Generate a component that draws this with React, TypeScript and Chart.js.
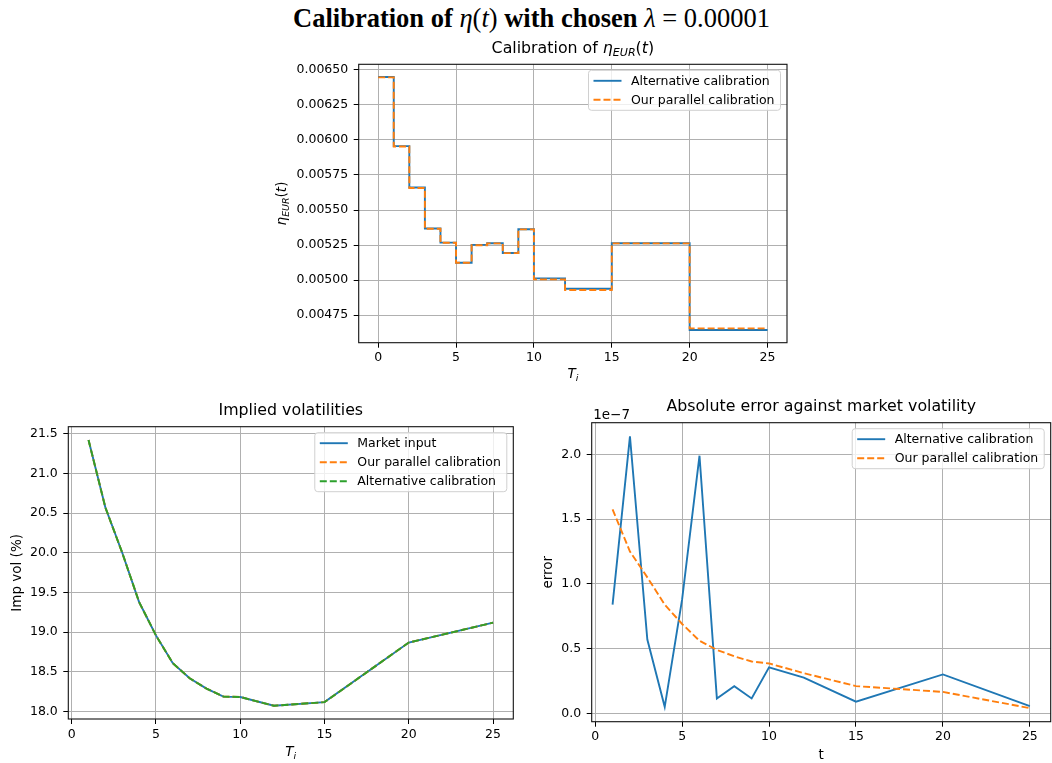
import React, { useEffect, useRef } from 'react';
import { Chart, registerables } from 'chart.js';

Chart.register(...registerables);

// ---------------- data ----------------
// eta(t) step function: value i applies on [ETA_KNOTS[i], ETA_KNOTS[i+1])
const ETA_KNOTS = [0, 1, 2, 3, 4, 5, 6, 7, 8, 9, 10, 12, 15, 20, 25];
const ETA_ALTERNATIVE = [0.00645, 0.005956, 0.005661, 0.005368, 0.005267, 0.005124, 0.005251, 0.005263, 0.005193, 0.005363, 0.005012, 0.004938, 0.005263, 0.004643];
const ETA_PARALLEL = [0.006447, 0.005953, 0.005657, 0.005366, 0.005266, 0.005124, 0.005248, 0.005262, 0.005192, 0.005362, 0.005005, 0.004929, 0.005262, 0.004655];
const ETA_TICKS = [0.00475, 0.005, 0.00525, 0.0055, 0.00575, 0.006, 0.00625, 0.0065];
const X_TICKS = [0, 5, 10, 15, 20, 25];

const MATURITIES = [1, 2, 3, 4, 5, 6, 7, 8, 9, 10, 12, 15, 20, 25];
const VOL_MARKET = [21.42, 20.57, 20.0, 19.38, 18.96, 18.61, 18.42, 18.29, 18.19, 18.185, 18.075, 18.12, 18.87, 19.12];
const VOL_PARALLEL = [21.42, 20.57, 20.0, 19.38, 18.96, 18.61, 18.42, 18.29, 18.19, 18.185, 18.075, 18.12, 18.87, 19.12];
const VOL_ALTERNATIVE = [21.42, 20.57, 20.0, 19.38, 18.96, 18.61, 18.42, 18.29, 18.19, 18.185, 18.075, 18.12, 18.87, 19.12];
const VOL_TICKS = [18.0, 18.5, 19.0, 19.5, 20.0, 20.5, 21.0, 21.5];

// absolute errors, in units of 1e-7
const ERR_OFFSET_LABEL = '1e\u22127';
const ERR_ALTERNATIVE = [0.84, 2.14, 0.57, 0.05, 0.88, 1.99, 0.115, 0.21, 0.115, 0.355, 0.275, 0.09, 0.30, 0.055];
const ERR_PARALLEL = [1.575, 1.25, 1.05, 0.84, 0.69, 0.56, 0.49, 0.44, 0.40, 0.385, 0.31, 0.21, 0.165, 0.04];
const ERR_TICKS = [0.0, 0.5, 1.0, 1.5, 2.0];

const BLUE = '#1f77b4';
const ORANGE = '#ff7f0e';
const GREEN = '#2ca02c';
const FONT = '"DejaVu Sans", sans-serif';
const TICK_SIZE = 12.5;
const TITLE_SIZE = 15.8;
const LABEL_SIZE = 13.5;

// ---------------- helpers ----------------
function padded(vals: number[], frac = 0.05): [number, number] {
  const lo = Math.min(...vals);
  const hi = Math.max(...vals);
  const d = (hi - lo) * frac;
  return [lo - d, hi + d];
}

function axis(range: [number, number], ticks: number[], fmt: (v: number) => string, size: number, isX: boolean, pad: number) {
  return {
    type: 'linear',
    min: range[0],
    max: range[1],
    afterBuildTicks: (s: any) => {
      s.ticks = ticks.map((v) => ({ value: v }));
    },
    afterFit: (s: any) => {
      if (isX) s.height = size;
      else s.width = size;
    },
    ticks: {
      callback: (v: any) => fmt(Number(v)),
      font: { family: FONT, size: TICK_SIZE },
      color: '#000',
      padding: pad,
      maxRotation: 0,
      minRotation: 0,
      autoSkip: false,
    },
    grid: {
      color: '#b0b0b0',
      lineWidth: 1,
      tickLength: 5,
      tickColor: '#000',
      tickWidth: 1,
      drawTicks: true,
    },
    border: { display: false },
  };
}

type Seg = { t: string; it?: boolean; sub?: boolean };
type TextItem = {
  segs: Seg[];
  size: number;
  place: (a: any) => [number, number];
  rotate?: boolean;
  align?: 'center' | 'left';
};

function drawRich(ctx: CanvasRenderingContext2D, item: TextItem, a: any) {
  const [x, y] = item.place(a);
  const size = item.size;
  const fontFor = (s: Seg) => `${s.it ? 'italic ' : ''}${s.sub ? size * 0.7 : size}px ${FONT}`;
  ctx.save();
  ctx.translate(x, y);
  if (item.rotate) ctx.rotate(-Math.PI / 2);
  const widths = item.segs.map((s) => {
    ctx.font = fontFor(s);
    return ctx.measureText(s.t).width;
  });
  const total = widths.reduce((p, c) => p + c, 0);
  let cx = item.align === 'left' ? 0 : -total / 2;
  ctx.textAlign = 'left';
  ctx.textBaseline = 'alphabetic';
  ctx.fillStyle = '#000';
  item.segs.forEach((s, i) => {
    ctx.font = fontFor(s);
    ctx.fillText(s.t, cx, s.sub ? size * 0.22 : 0);
    cx += widths[i];
  });
  ctx.restore();
}

function roundRectPath(ctx: CanvasRenderingContext2D, x: number, y: number, w: number, h: number, r: number) {
  ctx.beginPath();
  ctx.moveTo(x + r, y);
  ctx.lineTo(x + w - r, y);
  ctx.arcTo(x + w, y, x + w, y + r, r);
  ctx.lineTo(x + w, y + h - r);
  ctx.arcTo(x + w, y + h, x + w - r, y + h, r);
  ctx.lineTo(x + r, y + h);
  ctx.arcTo(x, y + h, x, y + h - r, r);
  ctx.lineTo(x, y + r);
  ctx.arcTo(x, y, x + r, y, r);
  ctx.closePath();
}

function makeDecor(texts: TextItem[]) {
  return {
    id: 'decor',
    afterDatasetsDraw(chart: any) {
      const ctx: CanvasRenderingContext2D = chart.ctx;
      const a = chart.chartArea;
      ctx.save();
      // spines
      ctx.strokeStyle = '#111';
      ctx.lineWidth = 1.1;
      ctx.setLineDash([]);
      ctx.strokeRect(a.left, a.top, a.right - a.left, a.bottom - a.top);

      // legend (upper right)
      const ds = chart.data.datasets;
      const lf = 12.5;
      ctx.font = `${lf}px ${FONT}`;
      const textW = Math.max(...ds.map((d: any) => ctx.measureText(d.label).width));
      const padX = 5;
      const handle = 28;
      const gap = 9.5;
      const rowH = 19;
      const padY = 10.5;
      const w = padX + handle + gap + textW + 6;
      const h = padY * 2 + (ds.length - 1) * rowH;
      const x0 = a.right - 6.5 - w;
      const y0 = a.top + 6;
      roundRectPath(ctx, x0, y0, w, h, 3);
      ctx.fillStyle = 'rgba(255,255,255,0.8)';
      ctx.fill();
      ctx.strokeStyle = '#d0d0d0';
      ctx.lineWidth = 1;
      ctx.stroke();
      ds.forEach((d: any, i: number) => {
        const cy = y0 + padY + i * rowH;
        ctx.setLineDash(d.borderDash || []);
        ctx.strokeStyle = d.borderColor;
        ctx.lineWidth = d.borderWidth;
        ctx.beginPath();
        ctx.moveTo(x0 + padX, cy);
        ctx.lineTo(x0 + padX + handle, cy);
        ctx.stroke();
        ctx.setLineDash([]);
        ctx.fillStyle = '#000';
        ctx.font = `${lf}px ${FONT}`;
        ctx.textAlign = 'left';
        ctx.textBaseline = 'middle';
        ctx.fillText(d.label, x0 + padX + handle + gap, cy + 0.5);
      });

      texts.forEach((t) => drawRich(ctx, t, a));
      ctx.restore();
    },
  };
}

function lineDs(label: string, data: any[], color: string, dashed: boolean, order: number, stepped?: any) {
  return {
    label,
    data,
    borderColor: color,
    backgroundColor: color,
    borderWidth: 1.9,
    borderDash: dashed ? [7, 3] : [],
    pointRadius: 0,
    pointHoverRadius: 0,
    tension: 0,
    fill: false,
    order,
    stepped: stepped || false,
  };
}

function baseOptions(padding: any, scales: any) {
  return {
    responsive: false,
    maintainAspectRatio: false,
    animation: false,
    devicePixelRatio: 1,
    layout: { padding },
    plugins: {
      legend: { display: false },
      title: { display: false },
      tooltip: { enabled: false },
    },
    events: [],
    scales,
  };
}

const etaLabel: Seg[] = [{ t: '\u03b7', it: true }, { t: 'EUR', it: true, sub: true }, { t: '(' }, { t: 't', it: true }, { t: ')' }];
const tiLabel: Seg[] = [{ t: 'T', it: true }, { t: 'i', it: true, sub: true }];

function buildEtaConfig() {
  const stepPts = (vals: number[]) => ETA_KNOTS.map((x, i) => ({ x, y: vals[Math.min(i, vals.length - 1)] }));
  const xr = padded(ETA_KNOTS);
  const yr = padded([...ETA_ALTERNATIVE, ...ETA_PARALLEL]);
  return {
    type: 'line',
    data: {
      datasets: [
        lineDs('Alternative calibration', stepPts(ETA_ALTERNATIVE), BLUE, false, 2, 'before'),
        lineDs('Our parallel calibration', stepPts(ETA_PARALLEL), ORANGE, true, 1, 'before'),
      ],
    },
    options: baseOptions(
      { top: 28.3, right: 13, left: 0, bottom: 0 },
      {
        x: axis(xr, X_TICKS, (v) => String(Math.round(v)), 47.3, true, 3),
        y: axis(yr, ETA_TICKS, (v) => v.toFixed(5), 88.7, false, 5.5),
      }
    ),
    plugins: [
      makeDecor([
        { segs: [{ t: 'Calibration of ' }, ...etaLabel], size: TITLE_SIZE, place: (a) => [(a.left + a.right) / 2, a.top - 11.5] },
        { segs: etaLabel, size: LABEL_SIZE, rotate: true, place: (a) => [a.left - 72.7, (a.top + a.bottom) / 2] },
        { segs: tiLabel, size: LABEL_SIZE, place: (a) => [(a.left + a.right) / 2, a.bottom + 35] },
      ]),
    ],
  };
}

function buildVolConfig() {
  const pts = (vals: number[]) => MATURITIES.map((x, i) => ({ x, y: vals[i] }));
  const xr = padded(MATURITIES);
  const yr = padded([...VOL_MARKET, ...VOL_PARALLEL, ...VOL_ALTERNATIVE]);
  return {
    type: 'line',
    data: {
      datasets: [
        lineDs('Market input', pts(VOL_MARKET), BLUE, false, 3),
        lineDs('Our parallel calibration', pts(VOL_PARALLEL), ORANGE, true, 2),
        lineDs('Alternative calibration', pts(VOL_ALTERNATIVE), GREEN, true, 1),
      ],
    },
    options: baseOptions(
      { top: 31.7, right: 16.7, left: 0, bottom: 0 },
      {
        x: axis(xr, X_TICKS, (v) => String(Math.round(v)), 44, true, 3),
        y: axis(yr, VOL_TICKS, (v) => v.toFixed(1), 68.3, false, 5.5),
      }
    ),
    plugins: [
      makeDecor([
        { segs: [{ t: 'Implied volatilities' }], size: TITLE_SIZE, place: (a) => [(a.left + a.right) / 2, a.top - 11.5] },
        { segs: [{ t: 'Imp vol (%)' }], size: LABEL_SIZE, rotate: true, place: (a) => [a.left - 47.3, (a.top + a.bottom) / 2] },
        { segs: tiLabel, size: LABEL_SIZE, place: (a) => [(a.left + a.right) / 2, a.bottom + 37] },
      ]),
    ],
  };
}

function buildErrConfig() {
  const pts = (vals: number[]) => MATURITIES.map((x, i) => ({ x, y: vals[i] }));
  const xr = padded(MATURITIES);
  const yr = padded([...ERR_ALTERNATIVE, ...ERR_PARALLEL]);
  return {
    type: 'line',
    data: {
      datasets: [
        lineDs('Alternative calibration', pts(ERR_ALTERNATIVE), BLUE, false, 2),
        lineDs('Our parallel calibration', pts(ERR_PARALLEL), ORANGE, true, 1),
      ],
    },
    options: baseOptions(
      { top: 27.7, right: 1.3, left: 0, bottom: 0 },
      {
        x: axis(xr, X_TICKS, (v) => String(Math.round(v)), 41.3, true, 3),
        y: axis(yr, ERR_TICKS, (v) => v.toFixed(1), 61.7, false, 5.5),
      }
    ),
    plugins: [
      makeDecor([
        { segs: [{ t: 'Absolute error against market volatility' }], size: TITLE_SIZE, place: (a) => [(a.left + a.right) / 2, a.top - 11.5] },
        { segs: [{ t: 'error' }], size: LABEL_SIZE, rotate: true, place: (a) => [a.left - 40, (a.top + a.bottom) / 2] },
        { segs: [{ t: 't' }], size: LABEL_SIZE, place: (a) => [(a.left + a.right) / 2, a.bottom + 37.5] },
        { segs: [{ t: ERR_OFFSET_LABEL }], size: 13.5, align: 'left', place: (a) => [a.left + 1.5, a.top - 4] },
      ]),
    ],
  };
}

function ChartBox(props: { left: number; top: number; width: number; height: number; build: () => any }) {
  const ref = useRef<HTMLCanvasElement | null>(null);
  useEffect(() => {
    if (!ref.current) return;
    const chart = new Chart(ref.current, props.build());
    return () => chart.destroy();
  }, []);
  return (
    <div style={{ position: 'absolute', left: props.left, top: props.top, width: props.width, height: props.height }}>
      <canvas ref={ref} width={props.width} height={props.height} style={{ display: 'block', width: props.width, height: props.height }} />
    </div>
  );
}

export default function App() {
  const reg = { fontWeight: 400 as const };
  const it = { fontStyle: 'italic' as const, fontWeight: 400 as const };
  return (
    <div style={{ position: 'absolute', left: 0, top: 0, width: 1052, height: 763, background: '#fff', overflow: 'hidden' }}>
      <div
        style={{
          position: 'absolute',
          left: 0,
          top: 1.75,
          width: 1063,
          textAlign: 'center',
          fontFamily: '"Liberation Serif", serif',
          fontSize: 26.5,
          lineHeight: '32px',
          fontWeight: 700,
          color: '#000',
          whiteSpace: 'nowrap',
        }}
      >
        Calibration of <span style={it}>η</span>
        <span style={reg}>(</span>
        <span style={it}>t</span>
        <span style={reg}>)</span> with chosen <span style={it}>λ</span>
        <span style={reg}> = 0.00001</span>
      </div>
      <ChartBox left={270} top={36} width={530} height={354} build={buildEtaConfig} />
      <ChartBox left={0} top={395} width={530} height={368} build={buildVolConfig} />
      <ChartBox left={530} top={395} width={522} height={368} build={buildErrConfig} />
    </div>
  );
}
